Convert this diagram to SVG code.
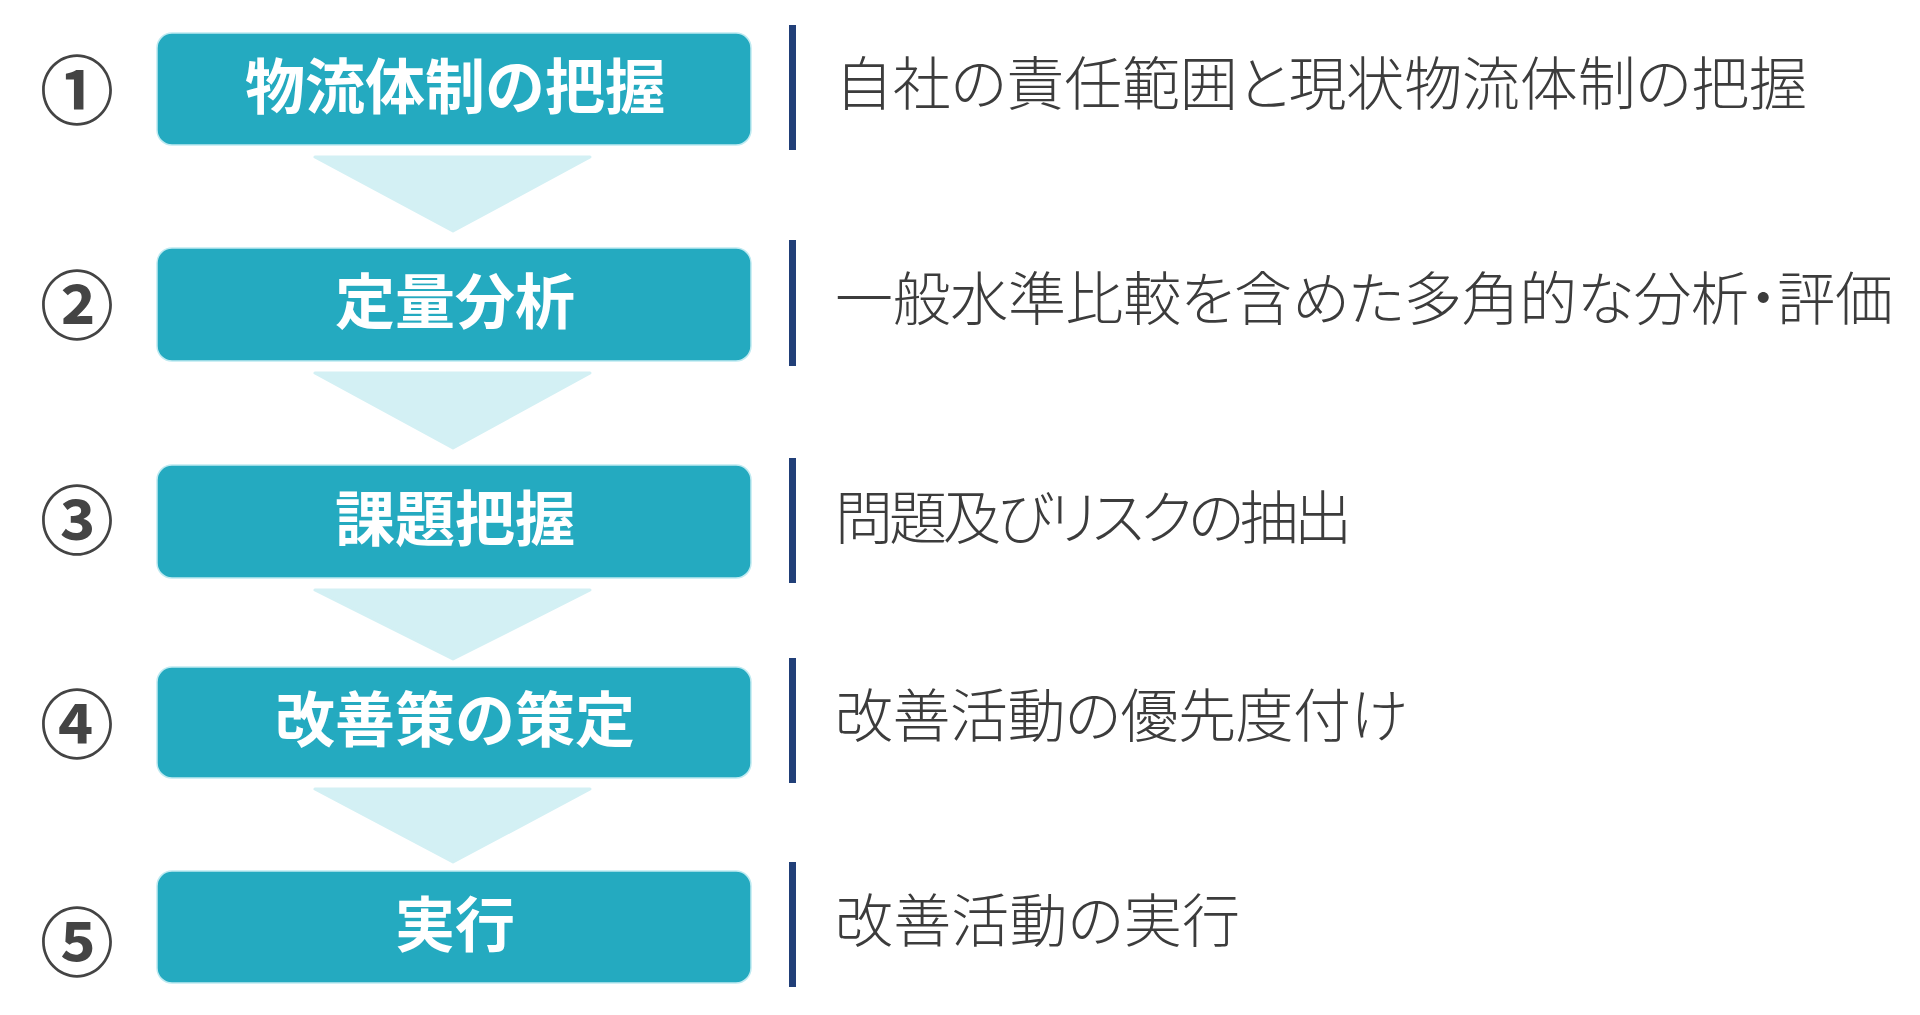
<svg xmlns="http://www.w3.org/2000/svg" width="1920" height="1015" viewBox="0 0 1920 1015">
<style>
.box{fill:#24AAC0;stroke:#BFEAF1;stroke-width:1.5}
.lbl{fill:#FFFFFF;font-family:"Noto Sans CJK JP","Noto Sans CJK SC",sans-serif;font-weight:700;font-size:60px;text-anchor:middle;dominant-baseline:central}
.num{fill:#444444;font-family:"Noto Sans CJK JP","Noto Sans CJK SC",sans-serif;font-weight:600;font-size:74px;text-anchor:middle;dominant-baseline:central}
.desc{fill:#3C3C3C;font-family:"Noto Sans CJK JP","Noto Sans CJK SC",sans-serif;font-weight:300;font-size:58px;dominant-baseline:central;font-feature-settings:"palt"}
.bar{fill:#213F78}
.arr{fill:#D3F0F4;stroke:#D3F0F4;stroke-width:3;stroke-linejoin:round}
</style>
<rect width="1920" height="1015" fill="#FFFFFF"/>
<g id="connectors">
<polygon class="arr" points="315,157 590,157 453,231"/>
<polygon class="arr" points="315,373 590,373 453,448"/>
<polygon class="arr" points="315,590 590,590 453,659"/>
<polygon class="arr" points="315,789 590,789 453,862"/>
</g>
<g id="step1">
<text class="num" x="77" y="85">①</text>
<rect class="box" x="157" y="33" width="594" height="112" rx="15"/>
<text class="lbl" x="455" y="82">物流体制の把握</text>
<rect class="bar" x="789" y="25" width="7" height="125"/>
<text class="desc" x="835" y="80" textLength="972" lengthAdjust="spacing">自社の責任範囲と現状物流体制の把握</text>
</g>
<g id="step2">
<text class="num" x="77" y="300">②</text>
<rect class="box" x="157" y="248" width="594" height="113" rx="15"/>
<text class="lbl" x="455" y="297">定量分析</text>
<rect class="bar" x="789" y="240" width="7" height="126"/>
<text class="desc" x="835" y="295" textLength="1058" lengthAdjust="spacing">一般水準比較を含めた多角的な分析・評価</text>
</g>
<g id="step3">
<text class="num" x="77" y="515">③</text>
<rect class="box" x="157" y="465" width="594" height="113" rx="15"/>
<text class="lbl" x="455" y="514">課題把握</text>
<rect class="bar" x="789" y="458" width="7" height="125"/>
<text class="desc" x="835" y="514" textLength="517" lengthAdjust="spacing">問題及びリスクの抽出</text>
</g>
<g id="step4">
<text class="num" x="77" y="719">④</text>
<rect class="box" x="157" y="667" width="594" height="111" rx="15"/>
<text class="lbl" x="455" y="715">改善策の策定</text>
<rect class="bar" x="789" y="658" width="7" height="125"/>
<text class="desc" x="835" y="712" textLength="572" lengthAdjust="spacing">改善活動の優先度付け</text>
</g>
<g id="step5">
<text class="num" x="77" y="937">⑤</text>
<rect class="box" x="157" y="871" width="594" height="112" rx="15"/>
<text class="lbl" x="455" y="920">実行</text>
<rect class="bar" x="789" y="862" width="7" height="125"/>
<text class="desc" x="835" y="917" textLength="405" lengthAdjust="spacing">改善活動の実行</text>
</g>
</svg>
